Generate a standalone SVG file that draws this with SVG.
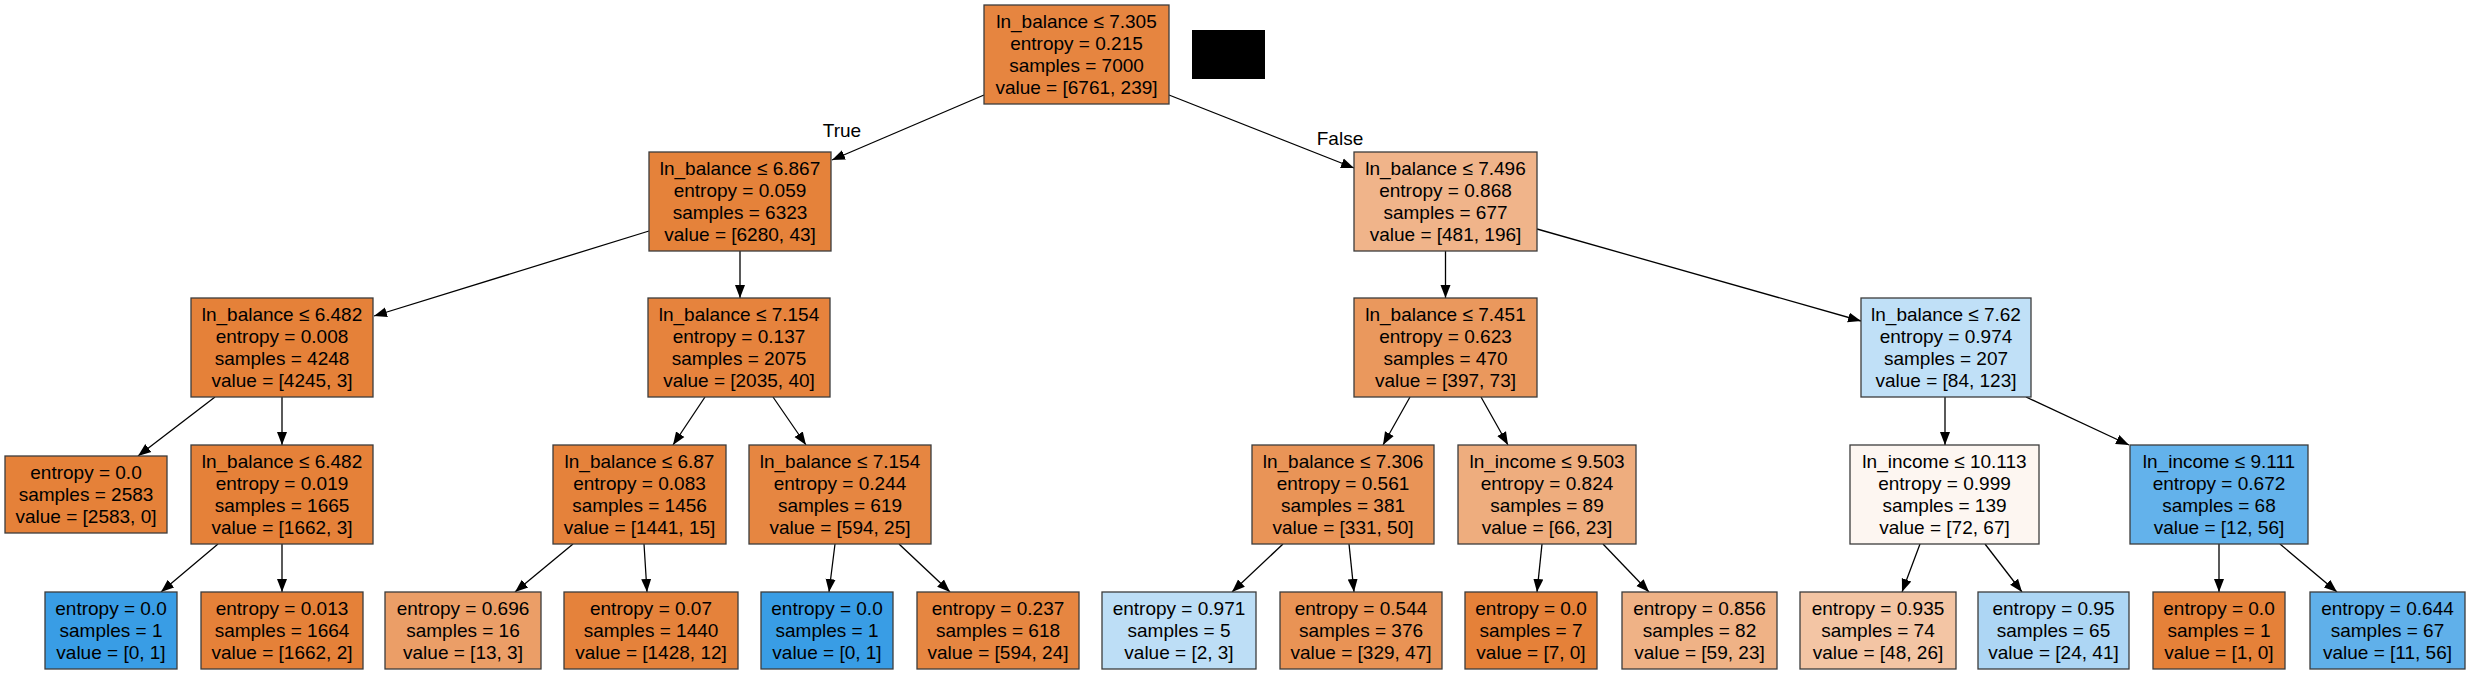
<svg xmlns="http://www.w3.org/2000/svg" width="2470" height="674" viewBox="0 0 2470 674">
<style>
.n rect{stroke:#3c3c3c;stroke-width:1.3}
text{font-family:"Liberation Sans",Arial,Helvetica,sans-serif;font-size:19px;fill:#000;text-anchor:middle}
.e line{stroke:#000;stroke-width:1.3;marker-end:url(#ah)}
</style>
<defs>
<marker id="ah" markerUnits="userSpaceOnUse" markerWidth="14" markerHeight="12" viewBox="0 -6 14 12" refX="13" refY="0" orient="auto">
<path d="M0,-5 L13,0 L0,5 Z" fill="#000"/>
</marker>
</defs>
<rect x="1192" y="30" width="73" height="49" fill="#000"/>
<g id="connectors" class="e">
<line x1="984" y1="95" x2="832" y2="160"/>
<line x1="1169" y1="95" x2="1354" y2="168"/>
<line x1="740" y1="251" x2="740" y2="298"/>
<line x1="649" y1="231" x2="374" y2="316"/>
<line x1="1445.5" y1="251" x2="1445.5" y2="298"/>
<line x1="1537" y1="229" x2="1861" y2="321"/>
<line x1="215" y1="397" x2="138" y2="456"/>
<line x1="282" y1="397" x2="282" y2="445"/>
<line x1="705" y1="397" x2="673" y2="445"/>
<line x1="773" y1="397" x2="806" y2="445"/>
<line x1="1410" y1="397" x2="1383" y2="445"/>
<line x1="1481" y1="397" x2="1508" y2="445"/>
<line x1="1945" y1="397" x2="1945" y2="445"/>
<line x1="2026" y1="397" x2="2129" y2="445"/>
<line x1="218" y1="544" x2="161" y2="592"/>
<line x1="282" y1="544" x2="282" y2="592"/>
<line x1="573" y1="544" x2="515" y2="592"/>
<line x1="644" y1="544" x2="647" y2="592"/>
<line x1="835" y1="544" x2="829" y2="592"/>
<line x1="899" y1="544" x2="950" y2="592"/>
<line x1="1283" y1="544" x2="1232" y2="592"/>
<line x1="1349" y1="544" x2="1354" y2="592"/>
<line x1="1542" y1="544" x2="1537" y2="592"/>
<line x1="1603" y1="544" x2="1649" y2="592"/>
<line x1="1920" y1="544" x2="1902" y2="592"/>
<line x1="1985" y1="544" x2="2022" y2="592"/>
<line x1="2219" y1="544" x2="2219" y2="592"/>
<line x1="2280" y1="544" x2="2337" y2="592"/>
</g>
<g id="edge-labels">
<text x="842" y="137">True</text>
<text x="1340" y="145">False</text>
</g>
<g id="n0" class="n"><rect x="984" y="5" width="185" height="99" fill="#e68540"/>
<text x="1076.5" y="28">ln_balance ≤ 7.305</text><text x="1076.5" y="50">entropy = 0.215</text><text x="1076.5" y="72">samples = 7000</text><text x="1076.5" y="94">value = [6761, 239]</text></g>
<g id="n1" class="n"><rect x="649" y="152" width="182" height="99" fill="#e5823a"/>
<text x="740" y="175">ln_balance ≤ 6.867</text><text x="740" y="197">entropy = 0.059</text><text x="740" y="219">samples = 6323</text><text x="740" y="241">value = [6280, 43]</text></g>
<g id="n2" class="n"><rect x="1354" y="152" width="183" height="99" fill="#f0b48a"/>
<text x="1445.5" y="175">ln_balance ≤ 7.496</text><text x="1445.5" y="197">entropy = 0.868</text><text x="1445.5" y="219">samples = 677</text><text x="1445.5" y="241">value = [481, 196]</text></g>
<g id="n3" class="n"><rect x="191" y="298" width="182" height="99" fill="#e58139"/>
<text x="282" y="321">ln_balance ≤ 6.482</text><text x="282" y="343">entropy = 0.008</text><text x="282" y="365">samples = 4248</text><text x="282" y="387">value = [4245, 3]</text></g>
<g id="n4" class="n"><rect x="648" y="298" width="182" height="99" fill="#e6833d"/>
<text x="739" y="321">ln_balance ≤ 7.154</text><text x="739" y="343">entropy = 0.137</text><text x="739" y="365">samples = 2075</text><text x="739" y="387">value = [2035, 40]</text></g>
<g id="n5" class="n"><rect x="1354" y="298" width="183" height="99" fill="#ea985d"/>
<text x="1445.5" y="321">ln_balance ≤ 7.451</text><text x="1445.5" y="343">entropy = 0.623</text><text x="1445.5" y="365">samples = 470</text><text x="1445.5" y="387">value = [397, 73]</text></g>
<g id="n6" class="n"><rect x="1861" y="298" width="170" height="99" fill="#c0e0f7"/>
<text x="1946" y="321">ln_balance ≤ 7.62</text><text x="1946" y="343">entropy = 0.974</text><text x="1946" y="365">samples = 207</text><text x="1946" y="387">value = [84, 123]</text></g>
<g id="n7" class="n"><rect x="5" y="456" width="162" height="77" fill="#e58139"/>
<text x="86" y="479">entropy = 0.0</text><text x="86" y="501">samples = 2583</text><text x="86" y="523">value = [2583, 0]</text></g>
<g id="n8" class="n"><rect x="191" y="445" width="182" height="99" fill="#e58139"/>
<text x="282" y="468">ln_balance ≤ 6.482</text><text x="282" y="490">entropy = 0.019</text><text x="282" y="512">samples = 1665</text><text x="282" y="534">value = [1662, 3]</text></g>
<g id="n9" class="n"><rect x="553" y="445" width="173" height="99" fill="#e5823b"/>
<text x="639.5" y="468">ln_balance ≤ 6.87</text><text x="639.5" y="490">entropy = 0.083</text><text x="639.5" y="512">samples = 1456</text><text x="639.5" y="534">value = [1441, 15]</text></g>
<g id="n10" class="n"><rect x="749" y="445" width="182" height="99" fill="#e68641"/>
<text x="840" y="468">ln_balance ≤ 7.154</text><text x="840" y="490">entropy = 0.244</text><text x="840" y="512">samples = 619</text><text x="840" y="534">value = [594, 25]</text></g>
<g id="n11" class="n"><rect x="1252" y="445" width="182" height="99" fill="#e99457"/>
<text x="1343" y="468">ln_balance ≤ 7.306</text><text x="1343" y="490">entropy = 0.561</text><text x="1343" y="512">samples = 381</text><text x="1343" y="534">value = [331, 50]</text></g>
<g id="n12" class="n"><rect x="1458" y="445" width="178" height="99" fill="#eead7e"/>
<text x="1547" y="468">ln_income ≤ 9.503</text><text x="1547" y="490">entropy = 0.824</text><text x="1547" y="512">samples = 89</text><text x="1547" y="534">value = [66, 23]</text></g>
<g id="n13" class="n"><rect x="1850" y="445" width="189" height="99" fill="#fdf6f1"/>
<text x="1944.5" y="468">ln_income ≤ 10.113</text><text x="1944.5" y="490">entropy = 0.999</text><text x="1944.5" y="512">samples = 139</text><text x="1944.5" y="534">value = [72, 67]</text></g>
<g id="n14" class="n"><rect x="2130" y="445" width="178" height="99" fill="#63b2eb"/>
<text x="2219" y="468">ln_income ≤ 9.111</text><text x="2219" y="490">entropy = 0.672</text><text x="2219" y="512">samples = 68</text><text x="2219" y="534">value = [12, 56]</text></g>
<g id="n15" class="n"><rect x="45" y="592" width="132" height="77" fill="#399de5"/>
<text x="111" y="615">entropy = 0.0</text><text x="111" y="637">samples = 1</text><text x="111" y="659">value = [0, 1]</text></g>
<g id="n16" class="n"><rect x="201" y="592" width="162" height="77" fill="#e58139"/>
<text x="282" y="615">entropy = 0.013</text><text x="282" y="637">samples = 1664</text><text x="282" y="659">value = [1662, 2]</text></g>
<g id="n17" class="n"><rect x="385" y="592" width="156" height="77" fill="#eb9e67"/>
<text x="463" y="615">entropy = 0.696</text><text x="463" y="637">samples = 16</text><text x="463" y="659">value = [13, 3]</text></g>
<g id="n18" class="n"><rect x="564" y="592" width="174" height="77" fill="#e5823b"/>
<text x="651" y="615">entropy = 0.07</text><text x="651" y="637">samples = 1440</text><text x="651" y="659">value = [1428, 12]</text></g>
<g id="n19" class="n"><rect x="761" y="592" width="132" height="77" fill="#399de5"/>
<text x="827" y="615">entropy = 0.0</text><text x="827" y="637">samples = 1</text><text x="827" y="659">value = [0, 1]</text></g>
<g id="n20" class="n"><rect x="917" y="592" width="162" height="77" fill="#e68641"/>
<text x="998" y="615">entropy = 0.237</text><text x="998" y="637">samples = 618</text><text x="998" y="659">value = [594, 24]</text></g>
<g id="n21" class="n"><rect x="1102" y="592" width="154" height="77" fill="#bddef6"/>
<text x="1179" y="615">entropy = 0.971</text><text x="1179" y="637">samples = 5</text><text x="1179" y="659">value = [2, 3]</text></g>
<g id="n22" class="n"><rect x="1280" y="592" width="162" height="77" fill="#e99355"/>
<text x="1361" y="615">entropy = 0.544</text><text x="1361" y="637">samples = 376</text><text x="1361" y="659">value = [329, 47]</text></g>
<g id="n23" class="n"><rect x="1465" y="592" width="132" height="77" fill="#e58139"/>
<text x="1531" y="615">entropy = 0.0</text><text x="1531" y="637">samples = 7</text><text x="1531" y="659">value = [7, 0]</text></g>
<g id="n24" class="n"><rect x="1622" y="592" width="155" height="77" fill="#efb286"/>
<text x="1699.5" y="615">entropy = 0.856</text><text x="1699.5" y="637">samples = 82</text><text x="1699.5" y="659">value = [59, 23]</text></g>
<g id="n25" class="n"><rect x="1800" y="592" width="156" height="77" fill="#f3c5a4"/>
<text x="1878" y="615">entropy = 0.935</text><text x="1878" y="637">samples = 74</text><text x="1878" y="659">value = [48, 26]</text></g>
<g id="n26" class="n"><rect x="1978" y="592" width="151" height="77" fill="#add6f4"/>
<text x="2053.5" y="615">entropy = 0.95</text><text x="2053.5" y="637">samples = 65</text><text x="2053.5" y="659">value = [24, 41]</text></g>
<g id="n27" class="n"><rect x="2153" y="592" width="132" height="77" fill="#e58139"/>
<text x="2219" y="615">entropy = 0.0</text><text x="2219" y="637">samples = 1</text><text x="2219" y="659">value = [1, 0]</text></g>
<g id="n28" class="n"><rect x="2310" y="592" width="155" height="77" fill="#60b0ea"/>
<text x="2387.5" y="615">entropy = 0.644</text><text x="2387.5" y="637">samples = 67</text><text x="2387.5" y="659">value = [11, 56]</text></g>
</svg>
